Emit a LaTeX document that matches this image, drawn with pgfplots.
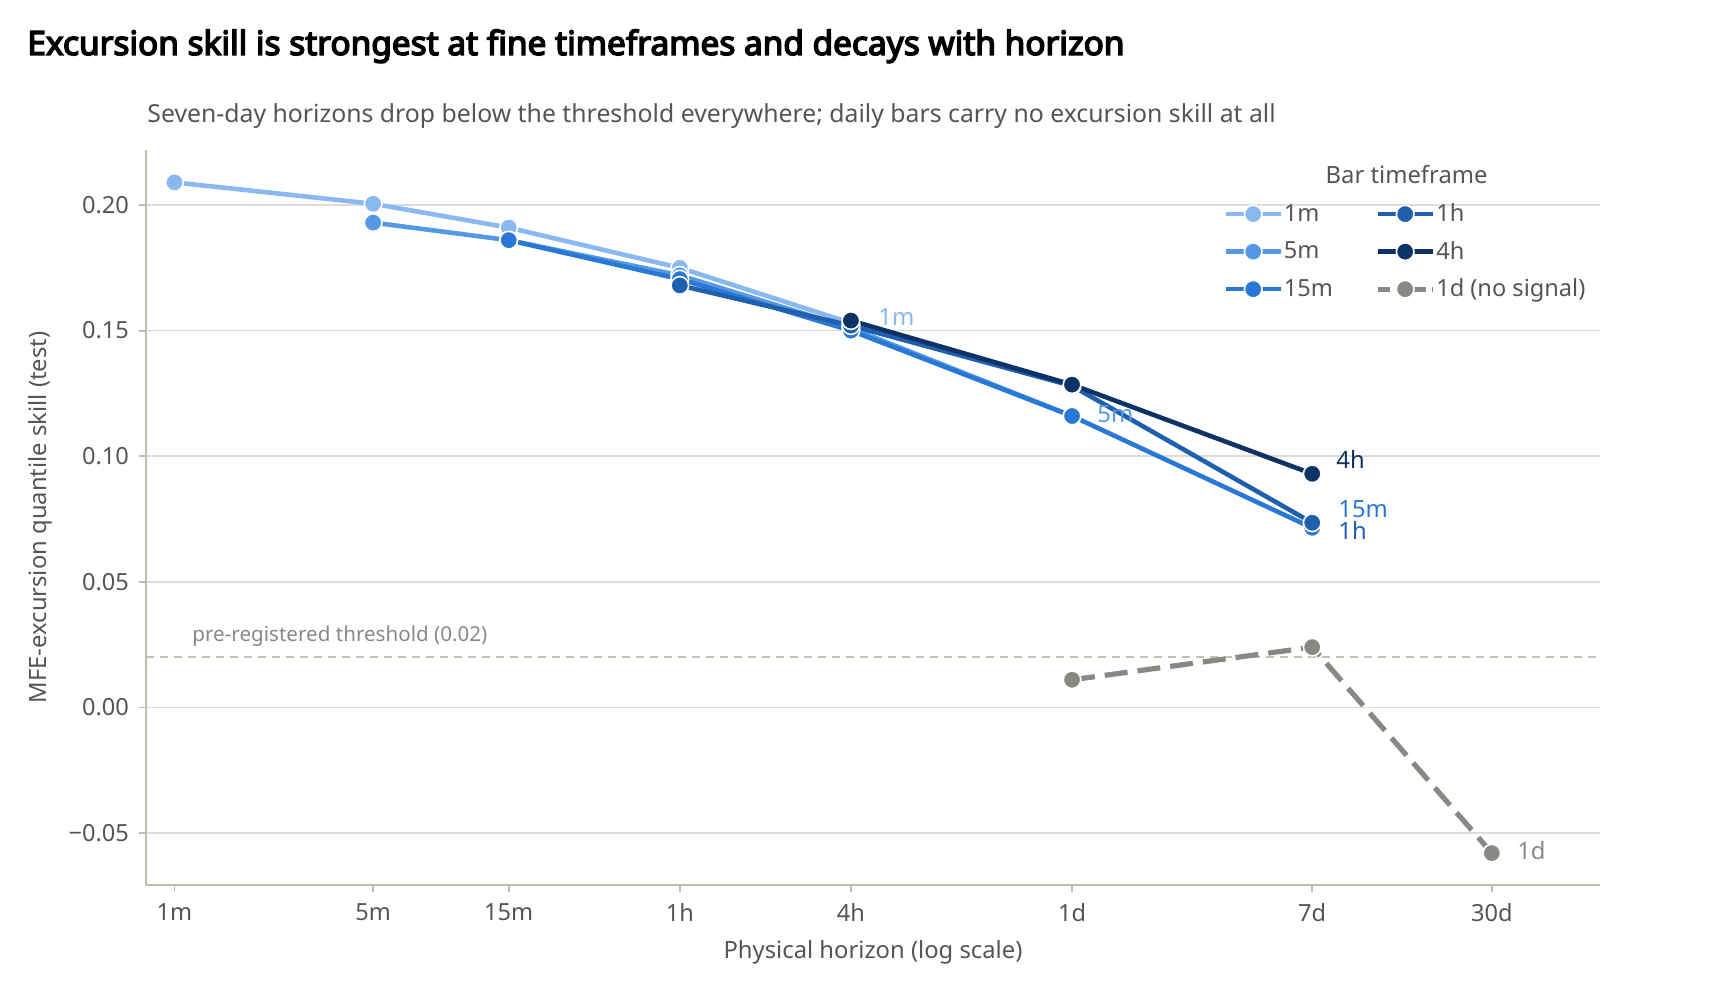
\documentclass[border=0pt]{standalone}
\usepackage{pgfplots}
\pgfplotsset{compat=1.18}
\usepackage{fontspec}
\setmainfont{Noto Sans}[AutoFakeBold=4.4]
\definecolor{cA}{HTML}{8AB8F0}
\definecolor{cB}{HTML}{5599E6}
\definecolor{cC}{HTML}{2A78D6}
\definecolor{cD}{HTML}{1F5FAE}
\definecolor{cE}{HTML}{0D3366}
\definecolor{cF}{HTML}{888884}
\definecolor{txt}{HTML}{555555}
\definecolor{axl}{HTML}{BDBDB0}
\definecolor{grd}{HTML}{DEDDD5}
\definecolor{thr}{HTML}{C2C2B4}
\begin{document}
\begin{tikzpicture}
\path[use as bounding box] (0,0) rectangle (860pt,-500pt);
\node[anchor=base west, inner sep=0pt, font=\bfseries\fontsize{16.7}{19}\selectfont, text=black] at (13.5pt,-27.5pt) {Excursion skill is strongest at fine timeframes and decays with horizon};
\node[anchor=base west, inner sep=0pt, font=\fontsize{12.4}{15}\selectfont, text=txt] at (73.5pt,-61.5pt) {Seven-day horizons drop below the threshold everywhere; daily bars carry no excursion skill at all};
\begin{axis}[
  at={(73pt,-442.5pt)}, anchor=south west,
  width=727pt, height=367.5pt, scale only axis,
  xmode=log,
  xmin=0.794, xmax=103800,
  ymin=-0.0707, ymax=0.2219,
  xtick={1,5,15,60,240,1440,10080,43200},
  xticklabels={1m,5m,15m,1h,4h,1d,7d,30d},
  ytick={-0.05,0,0.05,0.1,0.15,0.2},
  yticklabels={−0.05,0.00,0.05,0.10,0.15,0.20},
  minor xtick={}, minor ytick={},
  log basis x=10,
  axis x line*=bottom, axis y line*=left,
  axis line style={axl, line width=0.9pt},
  every outer x axis line/.append style={-}, every outer y axis line/.append style={-},
  tick align=outside, major tick length=3.5pt,
  tick style={axl, line width=0.9pt},
  xtick pos=bottom, ytick pos=left,
  ymajorgrids, major grid style={grd, line width=0.85pt},
  tick label style={font=\fontsize{11.8}{14}\selectfont, text=txt},
  xticklabel style={yshift=-2.3pt},
  yticklabel style={xshift=-1.5pt},
  xlabel={Physical horizon (log scale)},
  ylabel={MFE-excursion quantile skill (test)},
  label style={font=\fontsize{11.9}{14}\selectfont, text=txt},
  xlabel style={at={(axis description cs:0.5,-0.0915)}, anchor=center},
  ylabel style={at={(axis description cs:-0.0725,0.5)}, anchor=center, rotate=0},
  legend columns=2,
  legend cell align=left,
  legend style={draw=none, fill=none, at={(rel axis cs:0.7407,0.933)}, anchor=north west,
    font=\fontsize{11.8}{14}\selectfont, text=txt,
    /tikz/every even column/.append style={column sep=19pt},
    /tikz/every odd column/.append style={column sep=-1.5pt},
    row sep=4.3pt, inner sep=0pt},
  legend image code/.code={\draw[mark repeat=2,mark phase=2,#1] plot coordinates {(0pt,0pt)(13.75pt,0pt)(27.5pt,0pt)};},
  clip=false,
]
\pgfplotsset{ser/.style={color=#1, line width=2.3pt, mark=*, mark size=4.4pt, mark options={solid, fill=#1, draw=white, line width=0.8pt}}}
\addlegendimage{ser=cA}\addlegendentry{1m}
\addlegendimage{ser=cD}\addlegendentry{1h}
\addlegendimage{ser=cB}\addlegendentry{5m}
\addlegendimage{ser=cE}\addlegendentry{4h}
\addlegendimage{ser=cC}\addlegendentry{15m}
\addlegendimage{ser=cF, line width=2.6pt, dash pattern=on 6pt off 3pt}\addlegendentry{1d (no signal)}

\addplot[thr, line width=1.3pt, dash pattern=on 4.2pt off 2.8pt, forget plot] coordinates {(0.794,0.02) (103800,0.02)};

\addplot[ser=cA, forget plot] coordinates {(1,0.209) (5,0.2005) (15,0.191) (60,0.175) (240,0.153)};
\addplot[ser=cB, forget plot] coordinates {(5,0.193) (15,0.186) (60,0.172) (240,0.151) (1440,0.116)};
\addplot[ser=cC, forget plot] coordinates {(15,0.186) (60,0.1705) (240,0.150) (1440,0.116) (10080,0.0715)};
\addplot[ser=cD, forget plot] coordinates {(60,0.168) (240,0.152) (1440,0.128) (10080,0.0735)};
\addplot[ser=cE, forget plot] coordinates {(240,0.154) (1440,0.1285) (10080,0.093)};
\addplot[ser=cF, line width=2.6pt, dash pattern=on 11.5pt off 5pt, forget plot] coordinates {(1440,0.011) (10080,0.024) (43200,-0.058)};

\node[anchor=west, inner sep=0pt, font=\fontsize{10.3}{12}\selectfont, text=cF] at (axis cs:1.153,0.0284) {pre-registered threshold (0.02)};
\node[anchor=west, inner sep=0pt, font=\fontsize{11.9}{14}\selectfont, text=cA] at (axis cs:299,0.1554) {1m};
\node[anchor=west, inner sep=0pt, font=\fontsize{11.9}{14}\selectfont, text=cB] at (axis cs:1763,0.1168) {5m};
\node[anchor=west, inner sep=0pt, font=\fontsize{11.9}{14}\selectfont, text=cE] at (axis cs:12230,0.0989) {4h};
\node[anchor=west, inner sep=0pt, font=\fontsize{11.9}{14}\selectfont, text=cC] at (axis cs:12430,0.0790) {15m};
\node[anchor=west, inner sep=0pt, font=\fontsize{11.9}{14}\selectfont, text=cD] at (axis cs:12430,0.0705) {1h};
\node[anchor=west, inner sep=0pt, font=\fontsize{11.9}{14}\selectfont, text=cF] at (axis cs:52970,-0.0568) {1d};
\node[anchor=center, font=\fontsize{11.9}{14}\selectfont, text=txt] at (rel axis cs:0.867,0.966) {Bar timeframe};
\end{axis}
\end{tikzpicture}
\end{document}
